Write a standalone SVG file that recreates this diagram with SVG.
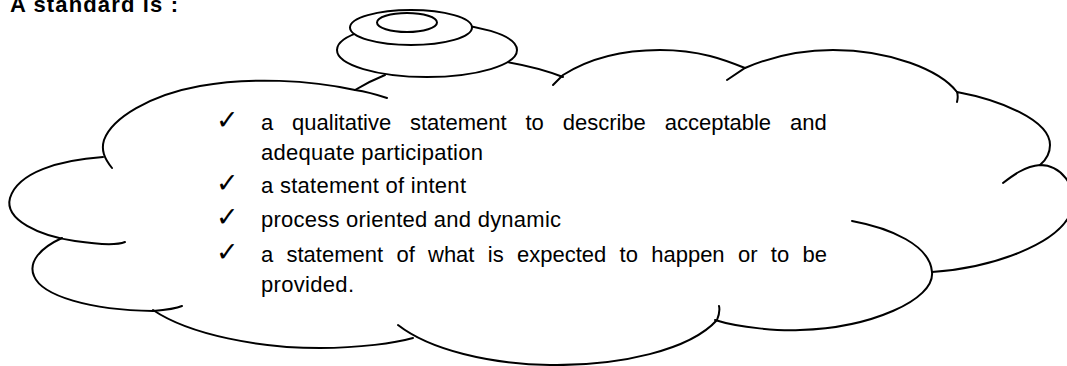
<svg xmlns="http://www.w3.org/2000/svg" width="1067" height="366" viewBox="0 0 1067 366">
<style>
.ln{fill:none;stroke:#000;stroke-width:2;stroke-linecap:round}
.el{fill:#fff;stroke:#000;stroke-width:2}
.tx{font-family:"Liberation Sans",Arial,sans-serif;font-size:22px;fill:#000}
.ck{font-family:"DejaVu Sans",sans-serif;font-size:27px;fill:#000}
.ti{font-family:"Liberation Sans",Arial,sans-serif;font-size:22px;font-weight:bold;fill:#000}
</style>
<rect width="1067" height="366" fill="#fff"/>
<text id="title" class="ti" x="10" y="12" textLength="168" lengthAdjust="spacing">A standard is :</text>
<g id="cloud">
<path class="ln" d="M112,168 C104,158 101,150 104,140 C112,118 150,95 200,86 C250,77 310,80 355,90 C368,92 378,95 387,98"/>
<path class="ln" d="M103,157 C60,160 18,172 10,198 C4,220 40,236 75,241 C95,244 115,246 125,242"/>
<path class="ln" d="M62,238 C40,248 28,262 34,276 C42,296 90,310 153,311 C165,310 175,309 182,306"/>
<path class="ln" d="M153,310 C190,335 260,348 320,348 C360,348 395,343 413,338"/>
<path class="ln" d="M398,325 C430,350 490,364 550,365 C620,366 690,350 717,320 C719,315 720,310 719,306"/>
<path class="ln" d="M715,320 C740,328 780,331 800,330 C870,328 935,300 932,272 C930,245 890,228 852,221"/>
<path class="ln" d="M932,272 C990,268 1060,245 1072,210 C1078,185 1060,165 1040,165 C1025,166 1012,176 1003,183"/>
<path class="ln" d="M957,102 C958,98 958,95 957,92 C1000,100 1050,120 1050,145 C1050,153 1046,160 1040,165"/>
<path class="ln" d="M727,80 C733,76 739,72 745,68 C775,55 805,50 833,50 C890,50 940,70 957,92"/>
<path class="ln" d="M553,85 C556,82 560,78 563,75 C590,58 625,50 660,50 C700,50 725,60 745,68"/>
<path class="ln" d="M507,62 C530,66 548,71 563,77"/>
<path class="ln" d="M355,90 C365,84 375,79 385,75"/>
</g>
<g id="bubbles">
<ellipse class="el" cx="427" cy="50" rx="90" ry="27"/>
<ellipse class="el" cx="411" cy="27.5" rx="61" ry="17.5"/>
<ellipse class="el" cx="407" cy="22.5" rx="30" ry="9.5"/>
</g>
<g id="list">
<text class="ck" x="216" y="129">✓</text>
<text class="ck" x="216" y="192">✓</text>
<text class="ck" x="216" y="226">✓</text>
<text class="ck" x="216" y="261">✓</text>
<text class="tx" y="130"><tspan x="261">a </tspan><tspan x="292.1">qualitative </tspan><tspan x="410">statement </tspan><tspan x="525.5">to </tspan><tspan x="562.7">describe </tspan><tspan x="664.7">acceptable </tspan><tspan x="790">and</tspan></text>
<text class="tx" x="261" y="160" textLength="222" lengthAdjust="spacing">adequate participation</text>
<text class="tx" x="261" y="193" textLength="205" lengthAdjust="spacing">a statement of intent</text>
<text class="tx" x="261" y="227" textLength="300" lengthAdjust="spacing">process oriented and dynamic</text>
<text class="tx" y="262"><tspan x="261">a </tspan><tspan x="286.5">statement </tspan><tspan x="396.4">of </tspan><tspan x="428">what </tspan><tspan x="487.8">is </tspan><tspan x="517">expected </tspan><tspan x="619.6">to </tspan><tspan x="651.2">happen </tspan><tspan x="737.9">or </tspan><tspan x="770.8">to </tspan><tspan x="802.4">be</tspan></text>
<text class="tx" x="261" y="292" textLength="93" lengthAdjust="spacing">provided.</text>
</g>
</svg>
